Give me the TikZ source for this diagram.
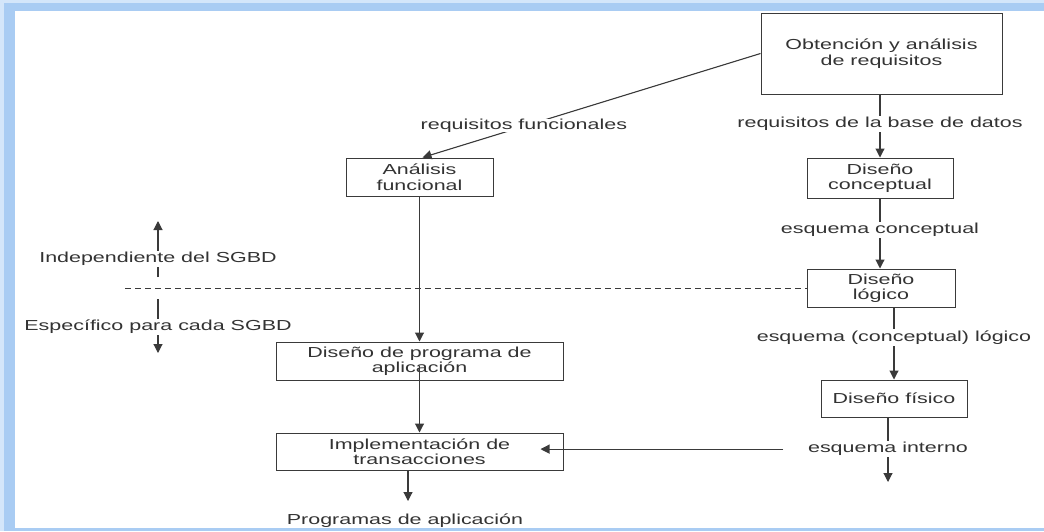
\documentclass[tikz,border=0pt]{standalone}
\usepackage{fontspec}
\setmainfont{Liberation Sans}[FakeStretch=1.48]
\usetikzlibrary{arrows.meta,calc}
\definecolor{frameblue}{HTML}{A9CCF3}
\definecolor{glowblue}{HTML}{D4E6FA}
\definecolor{ink}{HTML}{333333}
\definecolor{linegray}{HTML}{3A3A3A}
\begin{document}
\begin{tikzpicture}[x=1pt,y=-1pt,
  font=\fontsize{14.5}{15.5}\selectfont, text=ink,
  stepbox/.style={draw=linegray, line width=1pt, inner sep=0pt, align=center},
  lbl/.style={fill=white, inner sep=1.5pt},
  flow/.style={draw=linegray, line width=1.1pt, -{Triangle[width=9pt,length=9pt]}},
  divider/.style={draw=linegray, line width=1pt, dash pattern=on 6pt off 4pt}
]
\useasboundingbox (0,0) rectangle (1044,531);
% frame
\fill[glowblue] (0,0) rectangle (1044,531);
\fill[frameblue] (4,3) rectangle (1044,531);
\fill[white] (15,11) rectangle (1044,528);

% boxes
\node[stepbox, minimum width=241pt, minimum height=81pt] (obt) at (881.5,53.5) {Obtención y análisis\\de requisitos};
\node[stepbox, minimum width=147pt, minimum height=38pt] (func) at (419.5,177) {Análisis\\funcional};
\node[stepbox, minimum width=146pt, minimum height=40pt] (conc) at (880,178) {Diseño\\conceptual};
\node[stepbox, minimum width=148pt, minimum height=38pt] (log) at (881,288) {Diseño\\lógico};
\node[stepbox, minimum width=146pt, minimum height=37pt] (fis) at (894,398.5) {Diseño físico};
\node[stepbox, minimum width=287pt, minimum height=38pt] (prog) at (419.5,361) {Diseño de programa de\\aplicación};
\node[stepbox, minimum width=287pt, minimum height=37pt] (impl) at (419.5,451.5) {Implementación de\\transacciones};
\node (out) at (405,521) {Programas de aplicación};

% divider
\coordinate (ds) at (125,288);
\draw[divider] (ds) -- (log.west);

% connectors
\draw[flow] (obt.west) -- ([xshift=3pt]func.north)
  node[lbl, inner sep=0pt, pos=0.70, yshift=1pt] {requisitos funcionales};
\draw[flow] (conc.north |- obt.south) -- (conc.north)
  node[lbl, pos=0.47] {requisitos de la base de datos};
\draw[flow] (conc.south) -- (conc.south |- log.north)
  node[lbl, pos=0.45] {esquema conceptual};
\draw[flow] (fis.north |- log.south) -- (fis.north)
  node[lbl, pos=0.42] {esquema (conceptual) lógico};
\coordinate (fend) at (888,482);
\draw[flow] (fis.south -| fend) -- (fend)
  node[lbl, pos=0.49] (int) {esquema interno};
\draw[flow] ([xshift=-23pt]int.west) -- ([xshift=-23pt]int.west -| impl.east);
\draw[flow] (func.south) -- (func.south |- prog.north);
\draw[flow] ([yshift=15pt]prog.south) -- (prog.south |- impl.north);
\coordinate (pend) at (408,501);
\draw[flow] (impl.south -| pend) -- (pend);

% left indicators
\coordinate (ia) at (158,277);
\coordinate (ib) at (158,221);
\draw[flow] (ia) -- (ib) node[lbl, pos=0.32] {Independiente del SGBD};
\coordinate (ea) at (158,299);
\coordinate (eb) at (158,353);
\draw[flow] (ea) -- (eb) node[lbl, pos=0.52] {Específico para cada SGBD};
\end{tikzpicture}
\end{document}
